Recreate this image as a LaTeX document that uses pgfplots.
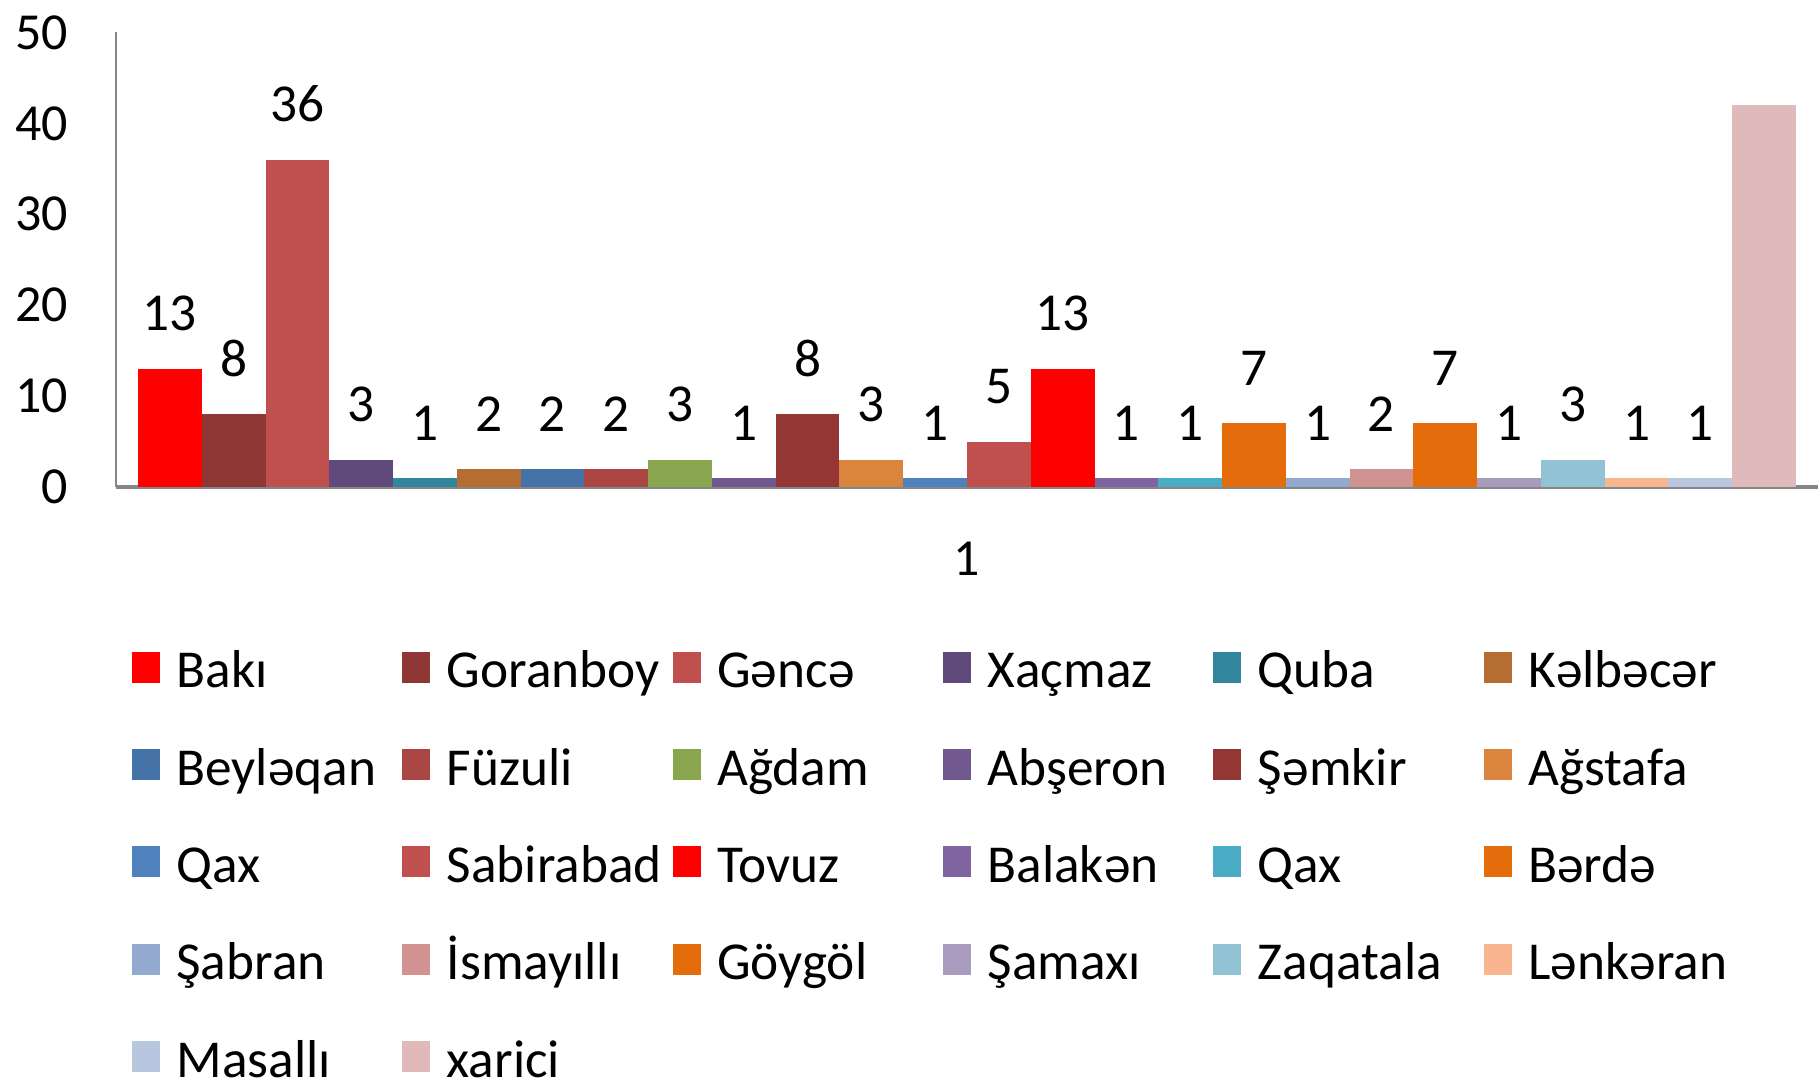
\documentclass[border=0pt]{standalone}
\usepackage{pgfplots}
\pgfplotsset{compat=1.18}
\usepackage{fontspec}
\setmainfont{Carlito}
\definecolor{c1}{HTML}{FF0000}
\definecolor{c2}{HTML}{8E3735}
\definecolor{c3}{HTML}{C0504D}
\definecolor{c4}{HTML}{604A7B}
\definecolor{c5}{HTML}{31859C}
\definecolor{c6}{HTML}{B66D31}
\definecolor{c7}{HTML}{4572A7}
\definecolor{c8}{HTML}{AA4643}
\definecolor{c9}{HTML}{89A54E}
\definecolor{c10}{HTML}{71588F}
\definecolor{c11}{HTML}{943634}
\definecolor{c12}{HTML}{DB843D}
\definecolor{c13}{HTML}{4F81BD}
\definecolor{c14}{HTML}{C0504D}
\definecolor{c15}{HTML}{FF0000}
\definecolor{c16}{HTML}{8064A2}
\definecolor{c17}{HTML}{4BACC6}
\definecolor{c18}{HTML}{E46C0A}
\definecolor{c19}{HTML}{93A9CF}
\definecolor{c20}{HTML}{D19392}
\definecolor{c21}{HTML}{E46C0A}
\definecolor{c22}{HTML}{A99BBD}
\definecolor{c23}{HTML}{92C3D4}
\definecolor{c24}{HTML}{F9B590}
\definecolor{c25}{HTML}{B9C6E0}
\definecolor{c26}{HTML}{E0BABA}
\definecolor{axgray}{HTML}{868686}
\newcommand{\lb}[1]{\makebox[48.7pt][l]{#1}}
\begin{document}
\begin{tikzpicture}[font=\fontsize{11}{13}\selectfont]
\useasboundingbox (0,0) rectangle (392pt,233pt);
\begin{axis}[
  scale only axis, width=367pt, height=98pt,
  at={(25pt,128pt)}, anchor=south west,
  xmin=0, xmax=2, ymin=0, ymax=50,
  ytick={0,10,20,30,40,50},
  xtick={1}, xticklabels={1},
  major tick length=0pt,
  axis x line*=bottom, axis y line*=left,
  x axis line style={axgray, line width=0.9pt},
  y axis line style={axgray, line width=0.6pt},
  /pgf/number format/assume math mode=true,
  ticklabel style={font=\fontsize{11.2}{13}\selectfont},
  yticklabel style={xshift=-6.8pt},
  xticklabel style={yshift=-8.3pt},
  ybar=0pt, bar width=13.75pt,
  clip=false,
  nodes near coords,
  every node near coord/.append style={yshift=4.6pt, font=\fontsize{11.5}{13}\selectfont, text=black},
  legend columns=6,
  legend cell align=left,
  legend style={draw=none, at={(axis description cs:0.00886,0)}, anchor=north west, yshift=-35.1pt,
    inner sep=0pt, column sep=0pt, row sep=12pt,
    nodes={inner sep=0pt, text height=8pt, text depth=1pt},
    /tikz/every odd column/.style={column sep=3.6pt},
    font=\fontsize{11.5}{13}\selectfont},
  legend image code/.code={\fill[#1,draw=none] (0pt,-1.0pt) rectangle (6pt,4.3pt); \fill[#1,draw=none] (0pt,-2.4pt) rectangle (6pt,0pt);},
]
\addplot[fill=c1,draw=none] coordinates {(1,13)}; \addlegendentry{\lb{Bakı}}
\addplot[fill=c2,draw=none] coordinates {(1,8)}; \addlegendentry{\lb{Goranboy}}
\addplot[fill=c3,draw=none] coordinates {(1,36)}; \addlegendentry{\lb{Gəncə}}
\addplot[fill=c4,draw=none] coordinates {(1,3)}; \addlegendentry{\lb{Xaçmaz}}
\addplot[fill=c5,draw=none] coordinates {(1,1)}; \addlegendentry{\lb{Quba}}
\addplot[fill=c6,draw=none] coordinates {(1,2)}; \addlegendentry{\lb{Kəlbəcər}}
\addplot[fill=c7,draw=none] coordinates {(1,2)}; \addlegendentry{\lb{Beyləqan}}
\addplot[fill=c8,draw=none] coordinates {(1,2)}; \addlegendentry{\lb{Füzuli}}
\addplot[fill=c9,draw=none] coordinates {(1,3)}; \addlegendentry{\lb{Ağdam}}
\addplot[fill=c10,draw=none] coordinates {(1,1)}; \addlegendentry{\lb{Abşeron}}
\addplot[fill=c11,draw=none] coordinates {(1,8)}; \addlegendentry{\lb{Şəmkir}}
\addplot[fill=c12,draw=none] coordinates {(1,3)}; \addlegendentry{\lb{Ağstafa}}
\addplot[fill=c13,draw=none] coordinates {(1,1)}; \addlegendentry{\lb{Qax}}
\addplot[fill=c14,draw=none] coordinates {(1,5)}; \addlegendentry{\lb{Sabirabad}}
\addplot[fill=c15,draw=none] coordinates {(1,13)}; \addlegendentry{\lb{Tovuz}}
\addplot[fill=c16,draw=none] coordinates {(1,1)}; \addlegendentry{\lb{Balakən}}
\addplot[fill=c17,draw=none] coordinates {(1,1)}; \addlegendentry{\lb{Qax}}
\addplot[fill=c18,draw=none] coordinates {(1,7)}; \addlegendentry{\lb{Bərdə}}
\addplot[fill=c19,draw=none] coordinates {(1,1)}; \addlegendentry{\lb{Şabran}}
\addplot[fill=c20,draw=none] coordinates {(1,2)}; \addlegendentry{\lb{İsmayıllı}}
\addplot[fill=c21,draw=none] coordinates {(1,7)}; \addlegendentry{\lb{Göygöl}}
\addplot[fill=c22,draw=none] coordinates {(1,1)}; \addlegendentry{\lb{Şamaxı}}
\addplot[fill=c23,draw=none] coordinates {(1,3)}; \addlegendentry{\lb{Zaqatala}}
\addplot[fill=c24,draw=none] coordinates {(1,1)}; \addlegendentry{\lb{Lənkəran}}
\addplot[fill=c25,draw=none] coordinates {(1,1)}; \addlegendentry{\lb{Masallı}}
\addplot[fill=c26,draw=none, nodes near coords={}] coordinates {(1,42)}; \addlegendentry{\lb{xarici}}
\end{axis}
\end{tikzpicture}
\end{document}
